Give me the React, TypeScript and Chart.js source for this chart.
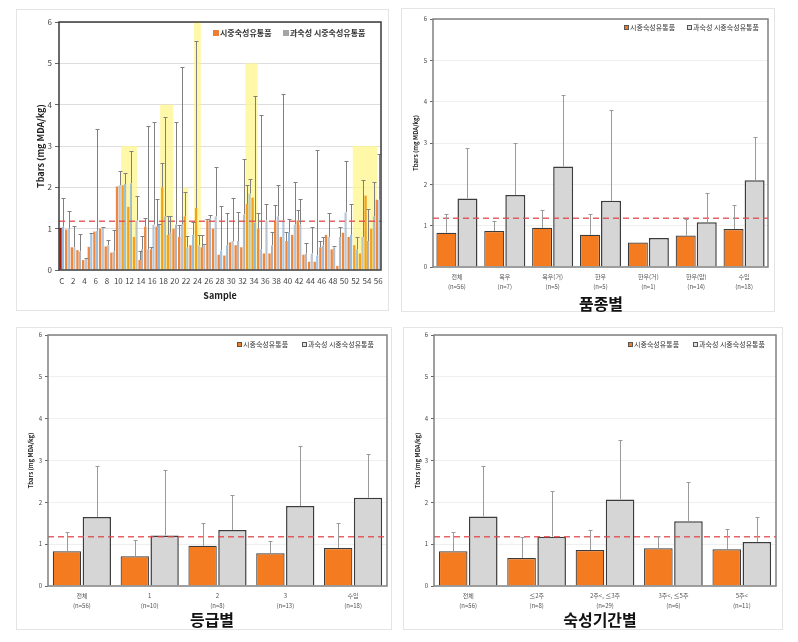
import React, { useEffect, useRef } from 'react';
import { Chart, registerables } from 'chart.js';
Chart.register(...registerables);

const FONT = '"Noto Sans CJK KR", "Noto Sans", "DejaVu Sans", sans-serif';
const REF_LINE = 1.18;
const Y_TITLE = 'Tbars (mg MDA/kg)';
const SERIES_RETAIL = '시중숙성유통품';
const SERIES_OVER = '과숙성 시중숙성유통품';
const Y_TICKS = [0, 1, 2, 3, 4, 5, 6];

// ---------- Panel 1: per sample ----------
const sampleLabels = ['C', '1', '2', '3', '4', '5', '6', '7', '8', '9', '10', '11', '12', '13', '14', '15', '16', '17', '18', '19', '20', '21', '22', '23', '24', '25', '26', '27', '28', '29', '30', '31', '32', '33', '34', '35', '36', '37', '38', '39', '40', '41', '42', '43', '44', '45', '46', '47', '48', '49', '50', '51', '52', '53', '54', '55', '56'];
const sampleRetail = [1.02, 0.98, 0.55, 0.48, 0.24, 0.56, 0.93, 1.0, 0.57, 0.42, 2.02, 2.05, 1.53, 0.8, 0.24, 1.05, 0.5, 1.05, 2.0, 0.85, 1.0, 0.8, 1.3, 0.6, 1.5, 0.55, 1.2, 1.0, 0.37, 0.35, 0.67, 0.6, 0.55, 1.6, 1.75, 1.0, 0.4, 0.4, 1.2, 0.8, 0.7, 0.85, 1.2, 0.37, 0.2, 0.2, 0.55, 0.85, 0.5, 0.1, 0.9, 0.8, 0.6, 0.4, 1.8, 1.0, 1.7];
const sampleRetailTop = [null, null, null, null, null, null, null, null, null, null, null, null, null, null, 0.47, 1.26, 0.55, 1.72, 2.58, 1.3, null, 1.1, 1.88, null, 5.55, 0.85, 1.23, null, null, null, null, null, null, 2.05, null, 1.37, null, null, 1.57, null, 0.91, null, 1.46, null, null, null, 0.7, null, null, null, null, null, null, null, null, null, null];
const sampleOver = [1.05, 1.0, 0.55, 0.45, 0.27, 0.88, 0.95, 1.02, 0.6, 0.45, 2.05, 2.08, 2.1, 1.2, 0.5, 0.5, 1.1, 1.1, 1.3, 0.9, 1.1, 1.1, 0.55, 0.85, 0.6, 0.6, 1.25, 1.3, 0.48, 0.6, 0.7, 0.7, 1.35, 1.85, 1.15, 0.5, 1.2, 0.6, 1.3, 1.2, 0.9, 1.1, 1.1, 0.4, 0.4, 0.35, 0.6, 0.8, 0.55, 0.8, 1.4, 0.85, 0.5, 0.8, 0.7, 1.3, 1.7];
const sampleOverTop = [1.75, 1.43, 1.07, 0.86, 0.29, 0.9, 3.42, 1.04, 0.72, 0.97, 2.39, 2.35, 2.87, 1.78, 0.83, 3.49, 3.57, 1.12, 3.71, 1.3, 3.57, 4.9, 0.83, 1.15, 0.85, 0.62, 1.33, 2.5, 1.55, 1.37, 1.74, 1.41, 2.68, 2.2, 4.2, 3.76, 1.6, 0.93, 2.06, 4.26, 1.23, 2.12, 1.72, 0.65, 1.05, 2.91, 0.81, 1.37, 0.57, 1.05, 2.63, 1.6, 0.81, 2.18, 1.47, 2.14, 2.81];
// highlighted sample ranges (category index units) and their heights
const highlightFrom = [10.5, 17.4, 21.5, 23.4, 32.5, 51.5];
const highlightTo = [13.3, 19.7, 22.4, 24.6, 34.7, 55.8];
const highlightTop = [3, 4, 2, 6, 5, 3];

// ---------- Panel 2: by breed ----------
const breedLabels = ['전체', '육우', '육우(거)', '한우', '한우(거)', '한우(암)', '수입'];
const breedN = ['(n=56)', '(n=7)', '(n=5)', '(n=5)', '(n=1)', '(n=14)', '(n=18)'];
const breedRetail = [0.83, 0.87, 0.95, 0.78, 0.59, 0.76, 0.92];
const breedRetailTop = [1.29, 1.12, 1.39, 1.29, null, 1.17, 1.51];
const breedOver = [1.66, 1.74, 2.43, 1.6, 0.7, 1.08, 2.1];
const breedOverTop = [2.88, 3.0, 4.16, 3.81, null, 1.78, 3.15];

// ---------- Panel 3: by grade ----------
const gradeLabels = ['전체', '1', '2', '3', '수입'];
const gradeN = ['(n=56)', '(n=10)', '(n=8)', '(n=13)', '(n=18)'];
const gradeRetail = [0.83, 0.71, 0.96, 0.78, 0.91];
const gradeRetailTop = [1.28, 1.09, 1.5, 1.08, 1.5];
const gradeOver = [1.65, 1.21, 1.34, 1.91, 2.11];
const gradeOverTop = [2.88, 2.78, 2.17, 3.34, 3.16];

// ---------- Panel 4: by aging period ----------
const agingLabels = ['전체', '≤2주', '2주<, ≤3주', '3주<, ≤5주', '5주<'];
const agingN = ['(n=56)', '(n=8)', '(n=29)', '(n=6)', '(n=11)'];
const agingRetail = [0.83, 0.67, 0.86, 0.9, 0.88];
const agingRetailTop = [1.28, 1.17, 1.34, 1.19, 1.37];
const agingOver = [1.66, 1.18, 2.07, 1.55, 1.05];
const agingOverTop = [2.88, 2.28, 3.48, 2.48, 1.64];

type Top = (number | null)[];

function errorBarPlugin(tops: Top[], color: string, cap: number) {
  return {
    id: 'errorBars',
    afterDatasetsDraw(chart: any) {
      const ctx = chart.ctx;
      const y = chart.scales.y;
      ctx.save();
      ctx.strokeStyle = color;
      ctx.lineWidth = 1;
      tops.forEach((arr, d) => {
        const meta = chart.getDatasetMeta(d);
        meta.data.forEach((el: any, i: number) => {
          const t = arr[i];
          if (t == null) return;
          const x = Math.round(el.x) + 0.5;
          const yt = Math.round(y.getPixelForValue(t)) + 0.5;
          ctx.beginPath();
          ctx.moveTo(x, el.y);
          ctx.lineTo(x, yt);
          ctx.moveTo(x - cap, yt);
          ctx.lineTo(x + cap, yt);
          ctx.stroke();
        });
      });
      ctx.restore();
    },
  };
}

function refLinePlugin(value: number) {
  return {
    id: 'refLine',
    afterDatasetsDraw(chart: any) {
      const ctx = chart.ctx;
      const a = chart.chartArea;
      const yy = chart.scales.y.getPixelForValue(value);
      ctx.save();
      ctx.strokeStyle = '#E0474C';
      ctx.globalAlpha = 0.85;
      ctx.lineWidth = 1.5;
      ctx.setLineDash([6, 4]);
      ctx.beginPath();
      ctx.moveTo(a.left, yy);
      ctx.lineTo(a.right, yy);
      ctx.stroke();
      ctx.restore();
    },
  };
}

function borderPlugin(color: string, width: number) {
  return {
    id: 'plotBorder',
    afterDraw(chart: any) {
      const ctx = chart.ctx;
      const a = chart.chartArea;
      ctx.save();
      ctx.strokeStyle = color;
      ctx.lineWidth = width;
      ctx.strokeRect(a.left, a.top, a.right - a.left, a.bottom - a.top);
      ctx.restore();
    },
  };
}

function highlightPlugin() {
  return {
    id: 'highlight',
    beforeDatasetsDraw(chart: any) {
      const ctx = chart.ctx;
      const x = chart.scales.x;
      const y = chart.scales.y;
      ctx.save();
      ctx.fillStyle = 'rgba(255, 246, 140, 0.75)';
      highlightFrom.forEach((f, k) => {
        const x1 = x.getPixelForValue(f);
        const x2 = x.getPixelForValue(highlightTo[k]);
        const y1 = y.getPixelForValue(highlightTop[k]);
        const y0 = y.getPixelForValue(0);
        ctx.fillRect(x1, y1, x2 - x1, y0 - y1);
      });
      ctx.restore();
    },
  };
}

function inHighlight(i: number) {
  return highlightFrom.some((f, k) => i >= f && i <= highlightTo[k]);
}

type Spec = {
  x: number; y: number; w: number; h: number;
  build: () => any;
};

function yAxis(width: number, tickSize: number, titleSize: number, titlePad: number, gridColor: string, tickLen: number) {
  return {
    min: 0,
    max: 6,
    afterFit: (s: any) => { s.width = width; },
    afterBuildTicks: (s: any) => { s.ticks = Y_TICKS.map((v) => ({ value: v })); },
    border: { display: false },
    grid: { color: (c: any) => (c.tick && c.tick.value === 0 ? 'rgba(0,0,0,0)' : gridColor), tickColor: '#666', tickLength: tickLen, lineWidth: 1 },
    ticks: { font: { family: FONT, size: tickSize }, color: '#444', padding: 3 },
    title: { display: true, text: Y_TITLE, font: { family: FONT, size: titleSize, weight: 'bold' }, color: '#222', padding: { top: titlePad, bottom: 0 } },
  };
}

const sampleSpec: Spec = {
  x: 16, y: 9, w: 373, h: 302,
  build: () => ({
    type: 'bar',
    data: {
      labels: sampleLabels,
      datasets: [
        {
          label: SERIES_RETAIL,
          data: sampleRetail,
          backgroundColor: (c: any) => (c.dataIndex === 0 ? '#9E1A0C' : inHighlight(c.dataIndex) ? '#F2A21E' : '#EC8840'),
          borderWidth: 0,
          categoryPercentage: 0.92,
          barPercentage: 0.9,
        },
        {
          label: SERIES_OVER,
          data: sampleOver,
          backgroundColor: '#AEB4BC',
          borderColor: '#8DB6DE',
          borderWidth: { left: 1, right: 0, top: 0, bottom: 0 },
          categoryPercentage: 0.92,
          barPercentage: 0.9,
        },
      ],
    },
    options: {
      responsive: false,
      animation: false,
      devicePixelRatio: 1,
      layout: { padding: { top: 13, right: 8, left: 0, bottom: 10 } },
      plugins: { legend: { display: false }, tooltip: { enabled: false } },
      scales: {
        x: {
          afterFit: (s: any) => { s.height = 31; },
          border: { display: false },
          grid: { display: false, drawTicks: false },
          ticks: {
            autoSkip: false, maxRotation: 0, minRotation: 0, padding: 6,
            font: { family: FONT, size: 8, lineHeight: 1.2 }, color: '#444',
            callback: (_v: any, i: number) => (i % 2 === 0 ? sampleLabels[i] : ''),
          },
          title: { display: true, text: 'Sample', font: { family: FONT, size: 9, weight: 'bold' }, color: '#222', padding: 0 },
        },
        y: yAxis(43, 8, 9, 19, '#DDDDDD', 4),
      },
    },
    plugins: [highlightPlugin(), refLinePlugin(REF_LINE), errorBarPlugin([sampleRetailTop, sampleOverTop], '#808080', 2), borderPlugin('#3A3A3A', 1.5)],
  }),
};

function groupSpec(frame: { x: number; y: number; w: number; h: number }, plot: { l: number; t: number; r: number; b: number },
  labels: string[], ns: string[], retail: number[], retailTop: Top, over: number[], overTop: Top): Spec {
  const yW = plot.l - frame.x;
  const xH = 28;
  return {
    ...frame,
    build: () => ({
      type: 'bar',
      data: {
        labels: labels.map((l, i) => [l, ns[i]]),
        datasets: [
          { label: SERIES_RETAIL, data: retail, backgroundColor: '#F47B20', borderColor: '#3C3C3C', borderWidth: 1.2, categoryPercentage: 0.88, barPercentage: 0.95 },
          { label: SERIES_OVER, data: over, backgroundColor: '#D6D6D6', borderColor: '#3C3C3C', borderWidth: 1.5, categoryPercentage: 0.88, barPercentage: 0.95 },
        ],
      },
      options: {
        responsive: false,
        animation: false,
        devicePixelRatio: 1,
        layout: {
          padding: {
            top: plot.t - frame.y,
            right: frame.x + frame.w - plot.r,
            left: 0,
            bottom: frame.y + frame.h - plot.b - xH,
          },
        },
        plugins: { legend: { display: false }, tooltip: { enabled: false } },
        scales: {
          x: {
            afterFit: (s: any) => { s.height = xH; },
            border: { display: false },
            grid: { display: false, drawTicks: false },
            ticks: { autoSkip: false, maxRotation: 0, minRotation: 0, padding: 5, font: { family: FONT, size: 6, lineHeight: 1.67 }, color: '#555' },
          },
          y: yAxis(yW, 6, 6, 11, '#EFEFEF', 3),
        },
      },
      plugins: [refLinePlugin(REF_LINE), errorBarPlugin([retailTop, overTop], '#9A9A9A', 2), borderPlugin('#808080', 1.5)],
    }),
  };
}

const breedSpec = groupSpec({ x: 401, y: 8, w: 374, h: 304 }, { l: 433, t: 19, r: 768, b: 267 },
  breedLabels, breedN, breedRetail, breedRetailTop, breedOver, breedOverTop);
const gradeSpec = groupSpec({ x: 16, y: 327, w: 376, h: 303 }, { l: 48, t: 335, r: 387, b: 586 },
  gradeLabels, gradeN, gradeRetail, gradeRetailTop, gradeOver, gradeOverTop);
const agingSpec = groupSpec({ x: 403, y: 327, w: 380, h: 303 }, { l: 434, t: 335, r: 776, b: 586 },
  agingLabels, agingN, agingRetail, agingRetailTop, agingOver, agingOverTop);

function Panel({ spec }: { spec: Spec }) {
  const ref = useRef<HTMLCanvasElement | null>(null);
  useEffect(() => {
    const chart = new Chart(ref.current as HTMLCanvasElement, spec.build());
    return () => chart.destroy();
  }, [spec]);
  return (
    <>
      <div style={{ position: 'absolute', left: spec.x, top: spec.y, width: spec.w - 2, height: spec.h - 2, border: '1px solid #E4E4E4' }} />
      <canvas ref={ref} width={spec.w} height={spec.h} style={{ position: 'absolute', left: spec.x, top: spec.y, width: spec.w, height: spec.h }} />
    </>
  );
}

function LegendItem({ x, y, size, bold, color, border, text }: { x: number; y: number; size: number; bold: boolean; color: string; border: string; text: string }) {
  const sq = Math.round(size * 0.7);
  return (
    <div style={{ position: 'absolute', left: x, top: y - size * 0.75, display: 'flex', alignItems: 'center', whiteSpace: 'nowrap', fontFamily: FONT, fontSize: size, fontWeight: bold ? 'bold' : 'normal', color: '#333', lineHeight: `${size * 1.5}px` }}>
      <span style={{ display: 'inline-block', width: sq, height: sq, background: color, border: border, boxSizing: 'border-box', marginRight: 1 }} />
      <span>{text}</span>
    </div>
  );
}

function Title({ cx, cy, text }: { cx: number; cy: number; text: string }) {
  return (
    <div style={{ position: 'absolute', left: cx - 100, top: cy - 12, width: 200, textAlign: 'center', fontFamily: FONT, fontSize: 16, fontWeight: 'bold', color: '#111', lineHeight: '24px' }}>{text}</div>
  );
}

export default function App() {
  return (
    <div style={{ position: 'fixed', left: 0, top: 0, width: 798, height: 642, background: '#fff', overflow: 'hidden' }}>
      <Panel spec={sampleSpec} />
      <Panel spec={breedSpec} />
      <Panel spec={gradeSpec} />
      <Panel spec={agingSpec} />

      <LegendItem x={213} y={33} size={8} bold color="#ED7D31" border="none" text={SERIES_RETAIL} />
      <LegendItem x={283} y={33} size={8} bold color="#A5A5A5" border="none" text={SERIES_OVER} />

      <LegendItem x={624} y={27} size={7} bold={false} color="#F47B20" border="1px solid #555" text={SERIES_RETAIL} />
      <LegendItem x={687} y={27} size={7} bold={false} color="#E0E0E0" border="1px solid #555" text={SERIES_OVER} />

      <LegendItem x={237} y={344} size={7} bold={false} color="#F47B20" border="1px solid #555" text={SERIES_RETAIL} />
      <LegendItem x={302} y={344} size={7} bold={false} color="#E0E0E0" border="1px solid #555" text={SERIES_OVER} />

      <LegendItem x={628} y={344} size={7} bold={false} color="#F47B20" border="1px solid #555" text={SERIES_RETAIL} />
      <LegendItem x={693} y={344} size={7} bold={false} color="#E0E0E0" border="1px solid #555" text={SERIES_OVER} />

      <Title cx={601} cy={303} text="품종별" />
      <Title cx={212} cy={619} text="등급별" />
      <Title cx={600} cy={619} text="숙성기간별" />
    </div>
  );
}
